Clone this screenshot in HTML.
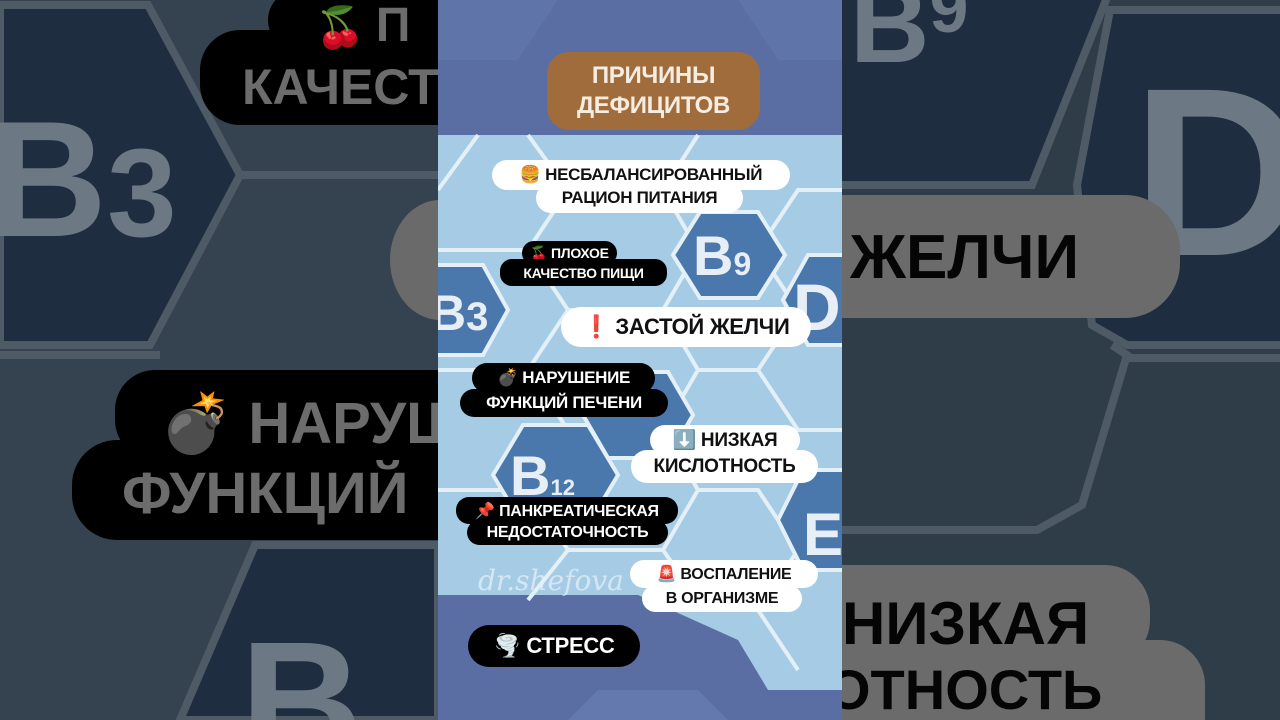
<!DOCTYPE html>
<html><head><meta charset="utf-8"><style>
html,body{margin:0;width:1280px;height:720px;overflow:hidden}
body{background:#34434f;font-family:"Liberation Sans","DejaVu Sans",sans-serif;position:relative}
.p{position:absolute;border-radius:16px;font-weight:bold;text-align:center;white-space:nowrap;display:flex;align-items:center;justify-content:center;letter-spacing:-0.3px}
.w{background:#fff;color:#111}
.b{background:#000;color:#fff}
.t{position:absolute;font-weight:bold;white-space:nowrap;line-height:1}
.side{position:absolute;top:0;height:720px;overflow:hidden}
</style></head><body>
<div class="side" style="left:0;width:438px;background:#34434f">
 <svg width="438" height="720" style="position:absolute;left:0;top:0">
  <polygon points="0,5 148,5 240,175 150,345 0,345" fill="#1e2d3f" stroke="#4e5a66" stroke-width="8"/>
  <line x1="240" y1="175" x2="438" y2="175" stroke="#4e5a66" stroke-width="8"/>
  <line x1="0" y1="355" x2="160" y2="355" stroke="#4e5a66" stroke-width="8"/>
  <polygon points="180,720 255,545 438,545 438,720" fill="#1e2d3f" stroke="#4e5a66" stroke-width="8"/>
  <text x="-12" y="236" font-size="165" font-weight="bold" fill="#6c7883" font-family="Liberation Sans">B<tspan font-size="125">3</tspan></text>
  <text x="240" y="760" font-size="170" font-weight="bold" fill="#6c7883" font-family="Liberation Sans">B</text>
  <ellipse cx="440" cy="260" rx="50" ry="60" fill="#6a6a6a"/>
 </svg>
 <div class="p" style="left:268px;top:-10px;width:240px;height:60px;background:#000;border-radius:30px"></div>
 <div class="p" style="left:200px;top:30px;width:300px;height:95px;background:#000;border-radius:40px"></div>
 <div class="t" style="left:315px;top:2px;font-size:40px;color:#6c6c6c">🍒 <span style="font-size:48px">П</span></div>
 <div class="t" style="left:242px;top:62px;font-size:50px;color:#6c6c6c">КАЧЕСТ</div>
 <div class="p" style="left:115px;top:370px;width:400px;height:90px;background:#000;border-radius:40px"></div>
 <div class="p" style="left:72px;top:440px;width:440px;height:100px;background:#000;border-radius:45px"></div>
 <div class="t" style="left:160px;top:395px;font-size:58px;color:#6c6c6c">💣 НАРУШ</div>
 <div class="t" style="left:122px;top:465px;font-size:58px;color:#6c6c6c">ФУНКЦИЙ</div>
</div>
<div class="side" style="left:842px;width:438px;background:#2e3d48">
 <svg width="438" height="720" style="position:absolute;left:0;top:0">
  <polygon points="-10,-10 268,-10 190,185 -10,185" fill="#1e2d3f" stroke="#4e5a66" stroke-width="8"/>
  <polygon points="268,10 450,10 450,345 285,345 250,325 235,185" fill="#1e2d3f" stroke="#4e5a66" stroke-width="8"/>
  <polyline points="270,345 285,355 240,505 195,530 -10,530" fill="none" stroke="#4e5a66" stroke-width="8"/>
  <line x1="285" y1="358" x2="450" y2="358" stroke="#4e5a66" stroke-width="8"/>
  <text x="8" y="62" font-size="110" font-weight="bold" fill="#6c7883" font-family="Liberation Sans">B<tspan font-size="70" dy="-30">9</tspan></text>
  <text x="290" y="255" font-size="240" font-weight="bold" fill="#6c7883" font-family="Liberation Sans">D</text>
 </svg>
 <div class="p" style="left:-100px;top:195px;width:438px;height:123px;background:#6b6b6b;border-radius:55px"></div>
 <div class="t" style="left:8px;top:227px;font-size:62px;color:#050505">ЖЕЛЧИ</div>
 <div class="p" style="left:-100px;top:565px;width:408px;height:100px;background:#6b6b6b;border-radius:45px"></div>
 <div class="p" style="left:-100px;top:640px;width:463px;height:80px;background:#6b6b6b;border-radius:45px 45px 0 0"></div>
 <div class="t" style="left:0px;top:594px;font-size:60px;color:#050505">НИЗКАЯ</div>
 <div class="t" style="left:-15px;top:662px;font-size:56px;color:#050505">ОТНОСТЬ</div>
</div>
<svg width="404" height="720" style="position:absolute;left:438px;top:0">
  <rect width="404" height="720" fill="#5b6ea3"/>
  <polygon points="0,0 404,0 404,60 340,60 300,0 120,0 80,60 0,60" fill="#6479ad" opacity="0.5"/>
  <polygon points="0,135 404,135 404,690 330,690 300,640 200,595 0,595" fill="#a6cbe5"/>
  <g stroke="#e4f0f8" stroke-width="4" fill="none">
   <path d="M0,190 L40,135 M90,135 L130,190 L90,250 L130,310 L90,370 L130,430 L90,490 L130,550 L90,600"/>
   <path d="M130,190 L225,190 L260,135 M225,190 L260,250 L225,310 L260,370 L225,430 L260,490 L225,550 L260,600"/>
   <path d="M260,250 L320,250 L360,190 L404,190 M320,250 L360,310 L404,310 M360,310 L320,370 L360,430 L404,430 M320,370 L260,370 M130,310 L225,310 M130,430 L225,430 M0,250 L90,250 M0,370 L90,370 M0,490 L90,490 M130,550 L225,550 M260,490 L320,490 L360,550 L404,550 M360,550 L320,610 L360,670 M260,600 L320,610"/>
  </g>
  <polygon points="235,255 262,212 320,212 347,255 320,298 262,298" fill="#4b78ac" stroke="#e4f0f8" stroke-width="4"/>
  <text x="255" y="275" font-size="56" font-weight="bold" fill="#e7eef6">B<tspan font-size="32">9</tspan></text>
  <polygon points="-30,310 -5,265 45,265 70,310 45,355 -5,355" fill="#4b78ac" stroke="#e4f0f8" stroke-width="4"/>
  <text x="-8" y="330" font-size="50" font-weight="bold" fill="#e7eef6">B<tspan font-size="40">3</tspan></text>
  <polygon points="345,300 370,255 420,255 440,300 420,345 370,345" fill="#4b78ac" stroke="#e4f0f8" stroke-width="4"/>
  <text x="355" y="330" font-size="66" font-weight="bold" fill="#e7eef6">D</text>
  <polygon points="145,415 170,372 230,372 255,415 230,458 170,458" fill="#4b78ac" stroke="#e4f0f8" stroke-width="4"/>
  <polygon points="55,475 85,425 150,425 180,475 150,525 85,525" fill="#4b78ac" stroke="#e4f0f8" stroke-width="4"/>
  <text x="72" y="495" font-size="56" font-weight="bold" fill="#e7eef6">B<tspan font-size="22">12</tspan></text>
  <polygon points="340,520 365,470 420,470 440,520 420,570 365,570" fill="#4b78ac" stroke="#e4f0f8" stroke-width="4"/>
  <text x="365" y="555" font-size="60" font-weight="bold" fill="#e7eef6">E</text>
  <text x="40" y="590" font-size="28" font-style="italic" fill="#e8f2fa" opacity="0.7" font-family="DejaVu Serif">dr.shefova</text>
  <polygon points="130,720 160,690 260,690 290,720" fill="#6479ad"/>
</svg>
<div class="p" style="left:547px;top:52px;width:213px;height:78px;background:#a06c3c;color:#f5ece2;font-size:24px;line-height:30px;border-radius:22px;flex-direction:column">ПРИЧИНЫ<br>ДЕФИЦИТОВ</div>
<div class="p w" style="left:492px;top:160px;width:298px;height:30px;font-size:17px">🍔 НЕСБАЛАНСИРОВАННЫЙ</div>
<div class="p w" style="left:536px;top:183px;width:207px;height:30px;font-size:17px">РАЦИОН ПИТАНИЯ</div>
<div class="p b" style="left:522px;top:241px;width:95px;height:24px;font-size:14px;border-radius:12px">🍒 ПЛОХОЕ</div>
<div class="p b" style="left:500px;top:259px;width:167px;height:27px;font-size:14px;border-radius:12px">КАЧЕСТВО ПИЩИ</div>
<div class="p w" style="left:561px;top:307px;width:250px;height:40px;font-size:22px;border-radius:20px">❗ ЗАСТОЙ ЖЕЛЧИ</div>
<div class="p b" style="left:472px;top:363px;width:183px;height:30px;font-size:17px">💣 НАРУШЕНИЕ</div>
<div class="p b" style="left:460px;top:389px;width:208px;height:28px;font-size:17px">ФУНКЦИЙ ПЕЧЕНИ</div>
<div class="p w" style="left:650px;top:425px;width:150px;height:30px;font-size:19px">⬇️ НИЗКАЯ</div>
<div class="p w" style="left:631px;top:450px;width:187px;height:33px;font-size:19px">КИСЛОТНОСТЬ</div>
<div class="p b" style="left:456px;top:497px;width:222px;height:27px;font-size:16px;border-radius:13px">📌 ПАНКРЕАТИЧЕСКАЯ</div>
<div class="p b" style="left:467px;top:520px;width:201px;height:25px;font-size:16px;border-radius:13px">НЕДОСТАТОЧНОСТЬ</div>
<div class="p w" style="left:630px;top:560px;width:188px;height:28px;font-size:16px;border-radius:14px">🚨 ВОСПАЛЕНИЕ</div>
<div class="p w" style="left:642px;top:585px;width:160px;height:27px;font-size:16px;border-radius:14px">В ОРГАНИЗМЕ</div>
<div class="p b" style="left:468px;top:625px;width:172px;height:42px;font-size:22px;border-radius:21px">🌪️ СТРЕСС</div>
</body></html>
